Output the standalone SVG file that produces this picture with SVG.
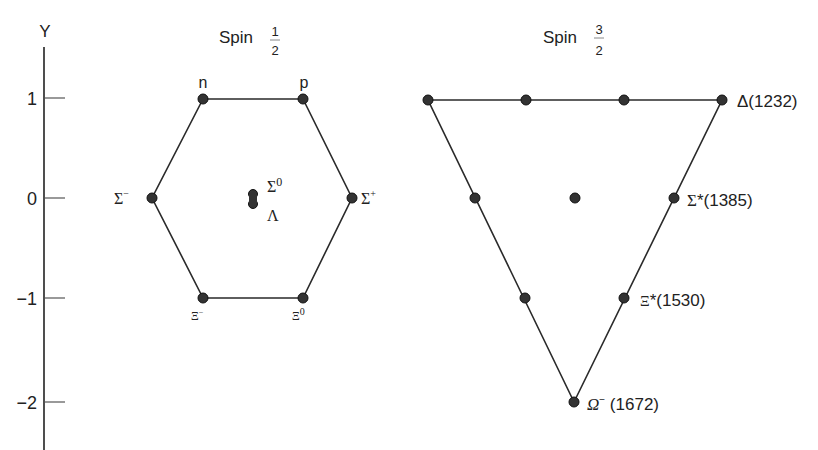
<svg xmlns="http://www.w3.org/2000/svg" width="818" height="450" viewBox="0 0 818 450">
  <style>
    .txt { font-family: "Liberation Sans", Arial, sans-serif; fill: #222; }
    .grk { font-family: "Liberation Serif", "Times New Roman", serif; fill: #222; }
    .edge { stroke: #2a2a2a; stroke-width: 1.6; fill: none; }
    .tick { stroke: #555; stroke-width: 1.2; }
    .dot { fill: #333; stroke: #111; stroke-width: 1; }
  </style>

  <!-- Hypercharge axis -->
  <g id="axis">
    <line x1="44" y1="47" x2="44" y2="450" stroke="#222" stroke-width="1.6"/>
    <text class="txt" x="45" y="37" font-size="17" text-anchor="middle">Y</text>
    <line class="tick" x1="45" y1="98" x2="65" y2="98" stroke="#999"/>
    <line class="tick" x1="45" y1="198" x2="65" y2="198"/>
    <line class="tick" x1="45" y1="298" x2="65" y2="298"/>
    <line class="tick" x1="45" y1="402" x2="65" y2="402"/>
    <text class="txt" x="37" y="105" font-size="18" text-anchor="end">1</text>
    <text class="txt" x="37" y="205" font-size="18" text-anchor="end">0</text>
    <text class="txt" x="37" y="305" font-size="18" text-anchor="end">−1</text>
    <text class="txt" x="37" y="409" font-size="18" text-anchor="end">−2</text>
  </g>

  <!-- Titles -->
  <g id="title-half">
    <text class="txt" x="219" y="43" font-size="17">Spin</text>
    <text class="txt" x="275" y="36" font-size="13" text-anchor="middle">1</text>
    <line x1="270" y1="40" x2="280" y2="40" stroke="#888" stroke-width="1"/>
    <text class="txt" x="275" y="55" font-size="13" text-anchor="middle">2</text>
  </g>
  <g id="title-threehalf">
    <text class="txt" x="543" y="43" font-size="17">Spin</text>
    <text class="txt" x="599" y="34" font-size="13" text-anchor="middle">3</text>
    <line x1="594" y1="38" x2="604" y2="38" stroke="#888" stroke-width="1"/>
    <text class="txt" x="599" y="55" font-size="13" text-anchor="middle">2</text>
  </g>

  <!-- Connectors -->
  <g id="connectors">
    <polygon class="edge" points="203,99 303,99 352,198 303,298 203,298 152,198"/>
    <polygon class="edge" points="428,100 722,100 574,402"/>
  </g>

  <!-- Baryon octet -->
  <g id="octet">
    <g id="n"><circle class="dot" cx="203" cy="99" r="5"/><text class="txt" x="203" y="88" font-size="16" text-anchor="middle">n</text></g>
    <g id="p"><circle class="dot" cx="303" cy="99" r="5"/><text class="txt" x="304" y="88" font-size="16" text-anchor="middle">p</text></g>
    <g id="sigma-minus"><circle class="dot" cx="152" cy="198" r="5"/><text class="grk" x="114" y="204" font-size="16">Σ<tspan font-size="10" dy="-7">−</tspan></text></g>
    <g id="sigma-plus"><circle class="dot" cx="352" cy="198" r="5"/><text class="grk" x="361" y="204" font-size="16">Σ<tspan font-size="10" dy="-7">+</tspan></text></g>
    <g id="sigma0-lambda">
      <circle class="dot" cx="253" cy="194" r="4.5"/>
      <circle class="dot" cx="253" cy="204" r="4.5"/>
      <rect x="249" y="194" width="8" height="10" fill="#333"/>
      <text class="grk" x="267" y="192" font-size="16">Σ<tspan font-size="12" dy="-6">0</tspan></text>
      <text class="grk" x="267" y="221" font-size="16">Λ</text>
    </g>
    <g id="xi-minus"><circle class="dot" cx="203" cy="298" r="5"/><text class="grk" x="191" y="320" font-size="12">Ξ<tspan font-size="8" dy="-5">−</tspan></text></g>
    <g id="xi0"><circle class="dot" cx="303" cy="298" r="5"/><text class="grk" x="292" y="320" font-size="12">Ξ<tspan font-size="10" dy="-5">0</tspan></text></g>
  </g>

  <!-- Baryon decuplet -->
  <g id="decuplet">
    <g id="delta">
      <circle class="dot" cx="428" cy="100" r="5"/>
      <circle class="dot" cx="526" cy="100" r="5"/>
      <circle class="dot" cx="624" cy="100" r="5"/>
      <circle class="dot" cx="722" cy="100" r="5"/>
      <text class="txt" x="737" y="107" font-size="17">Δ(1232)</text>
    </g>
    <g id="sigma-star">
      <circle class="dot" cx="475" cy="198" r="5"/>
      <circle class="dot" cx="575" cy="198" r="5"/>
      <circle class="dot" cx="674" cy="198" r="5"/>
      <text class="txt" x="687" y="206" font-size="17"><tspan class="grk">Σ</tspan>*(1385)</text>
    </g>
    <g id="xi-star">
      <circle class="dot" cx="525" cy="298" r="5"/>
      <circle class="dot" cx="624" cy="298" r="5"/>
      <text class="txt" x="640" y="306" font-size="17"><tspan class="grk" font-size="15">Ξ</tspan>*(1530)</text>
    </g>
    <g id="omega">
      <circle class="dot" cx="574" cy="402" r="5"/>
      <text class="txt" x="587" y="410" font-size="17"><tspan class="grk" font-style="italic">Ω</tspan><tspan font-size="10" dy="-7">−</tspan><tspan dy="7"> (1672)</tspan></text>
    </g>
  </g>
</svg>
